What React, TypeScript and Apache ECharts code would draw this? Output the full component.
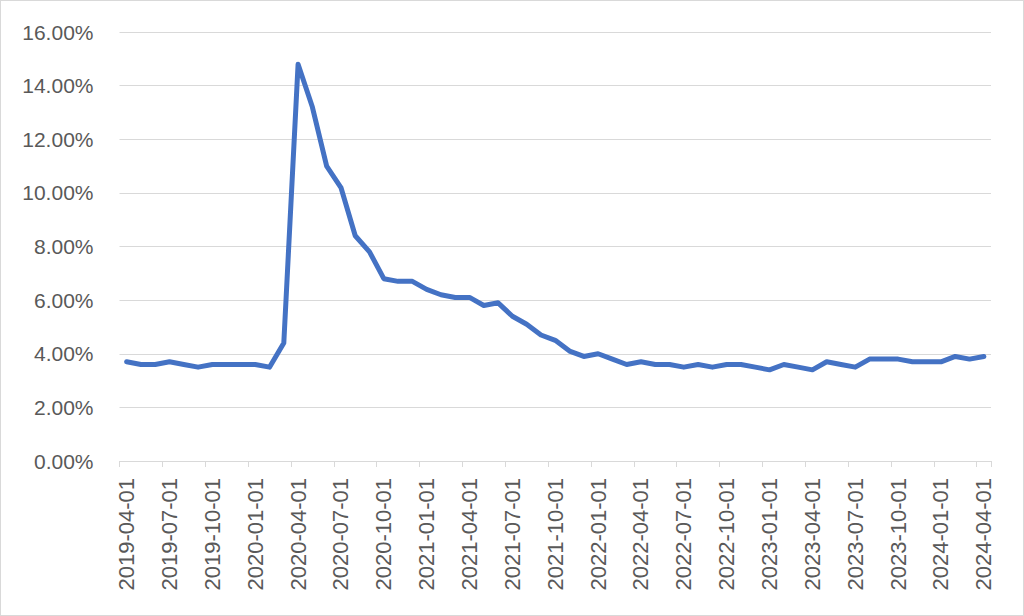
import React, { useEffect, useRef } from "react";
import * as echarts from "echarts";

const startYear = 2019;
const startMonth = 4;
const rates2019 = [3.7, 3.6, 3.6, 3.7, 3.6, 3.5, 3.6, 3.6, 3.6]; // Apr-Dec
const rates2020 = [3.6, 3.5, 4.4, 14.8, 13.2, 11.0, 10.2, 8.4, 7.8, 6.8, 6.7, 6.7];
const rates2021 = [6.4, 6.2, 6.1, 6.1, 5.8, 5.9, 5.4, 5.1, 4.7, 4.5, 4.1, 3.9];
const rates2022 = [4.0, 3.8, 3.6, 3.7, 3.6, 3.6, 3.5, 3.6, 3.5, 3.6, 3.6, 3.5];
const rates2023 = [3.4, 3.6, 3.5, 3.4, 3.7, 3.6, 3.5, 3.8, 3.8, 3.8, 3.7, 3.7];
const rates2024 = [3.7, 3.9, 3.8, 3.9]; // Jan-Apr

const values = [...rates2019, ...rates2020, ...rates2021, ...rates2022, ...rates2023, ...rates2024];

const categories: string[] = values.map((_, i) => {
  const m0 = startMonth - 1 + i;
  const y = startYear + Math.floor(m0 / 12);
  const m = (m0 % 12) + 1;
  return `${y}-${String(m).padStart(2, "0")}-01`;
});

const yMin = 0;
const yMax = 16;
const yStep = 2;

export default function App() {
  const ref = useRef<HTMLDivElement>(null);
  useEffect(() => {
    if (!ref.current) return;
    const chart = echarts.init(ref.current, null, { renderer: "svg" });
    const font = "'Liberation Sans', Arial, sans-serif";
    chart.setOption({
      animation: false,
      backgroundColor: "#ffffff",
      grid: { left: 118.5, right: 32, top: 31, bottom: 154, containLabel: false },
      xAxis: {
        type: "category",
        data: categories,
        boundaryGap: true,
        axisLine: { show: true, lineStyle: { color: "#d9d9d9", width: 1 } },
        axisTick: { show: true, interval: 2, length: 6, lineStyle: { color: "#d9d9d9" } },
        axisLabel: {
          interval: 2,
          rotate: 90,
          margin: 17,
          color: "#595959",
          fontSize: 22,
          fontFamily: font,
        },
        splitLine: { show: false },
      },
      yAxis: {
        type: "value",
        min: yMin,
        max: yMax,
        interval: yStep,
        axisLine: { show: false },
        axisTick: { show: false },
        axisLabel: {
          margin: 26,
          color: "#595959",
          fontSize: 21,
          fontFamily: font,
          formatter: (v: number) => v.toFixed(2) + "%",
        },
        splitLine: { show: true, lineStyle: { color: "#d9d9d9", width: 1 } },
      },
      series: [
        {
          type: "line",
          data: values,
          showSymbol: false,
          symbol: "none",
          lineStyle: { color: "#4472C4", width: 5, cap: "round", join: "round" },
          itemStyle: { color: "#4472C4" },
        },
      ],
    });
    return () => chart.dispose();
  }, []);
  return (
    <div
      style={{
        position: "absolute",
        left: 0,
        top: 0,
        width: 1024,
        height: 616,
        boxSizing: "border-box",
        border: "1px solid #d9d9d9",
        background: "#fff",
      }}
    >
      <div ref={ref} style={{ width: 1022, height: 614 }} />
    </div>
  );
}
